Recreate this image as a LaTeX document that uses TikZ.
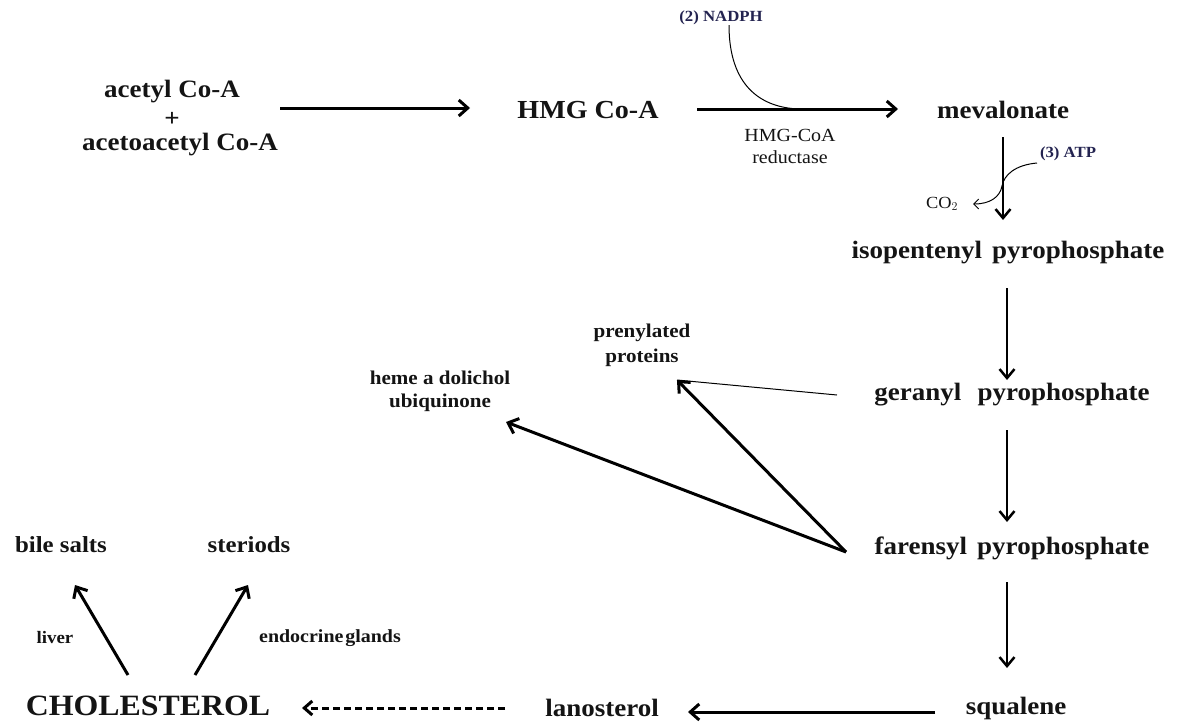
\documentclass[tikz,border=0pt]{standalone}
\usepackage{fontspec}
\setmainfont{Liberation Serif}[FakeStretch=1.08]
\usetikzlibrary{arrows.meta}
\definecolor{navy}{RGB}{35,35,80}
\definecolor{ink}{RGB}{20,20,20}
\begin{document}
\begin{tikzpicture}[x=1pt,y=-1pt,
  lbl/.style={inner sep=0pt, text=ink, font=\fontsize{25}{29}\selectfont\bfseries},
  biglbl/.style={inner sep=0pt, text=ink, font=\fontsize{29.5}{32}\selectfont\bfseries},
  sidelbl/.style={inner sep=0pt, text=ink, align=center, font=\fontsize{19.5}{25}\selectfont\bfseries},
  enzlbl/.style={inner sep=0pt, text=ink, align=center, font=\fontsize{18.5}{22}\selectfont},
  cofac/.style={inner sep=0pt, text=navy, font=\fontsize{15.5}{17}\selectfont\bfseries},
  thickarr/.style={line width=3pt, -{Straight Barb[length=9pt,width=16pt]}},
  medarr/.style={line width=2.5pt, -{Straight Barb[length=9pt,width=15pt]}},
  thinarr/.style={line width=1pt, -{Straight Barb[length=5pt,width=10pt]}},
  dasharr/.style={line width=3pt, dash pattern=on 7pt off 4pt, -{Straight Barb[length=8pt,width=14pt]}}
]
\useasboundingbox (0,0) rectangle (1180,723);
\fill[white] (0,0) rectangle (1180,723);

% nodes
\node[lbl] (acetyl) at (172,92) {acetyl Co-A};
\node[lbl] (plus) at (172,119) {+};
\node[lbl] (acetoacetyl) at (180,145) {acetoacetyl Co-A};
\node[lbl, font=\fontsize{26}{29}\selectfont\bfseries] (hmg) at (588,110) {HMG Co-A};
\node[enzlbl] (enz) at (790,146) {HMG-CoA\\reductase};
\node[cofac] (nadph) at (721,18) {(2) NADPH};
\node[lbl] (mev) at (1003,110) {mevalonate};
\node[cofac] (atp) at (1068,154) {(3) ATP};
\node[inner sep=0pt, text=ink, font=\fontsize{17}{19}\selectfont] (co2) at (942,204) {CO$_2$};
\node[lbl] (iso) at (1008,253) {isopentenyl\hspace{0.4em}pyrophosphate};
\node[lbl] (ger) at (1012,395) {geranyl\hspace{0.65em}pyrophosphate};
\node[lbl] (far) at (1012,548) {farensyl\hspace{0.4em}pyrophosphate};
\node[lbl] (squ) at (1016,708) {squalene};
\node[lbl] (lan) at (602,708) {lanosterol};
\node[biglbl] (chol) at (148,706) {CHOLESTEROL};
\node[lbl, font=\fontsize{23}{26}\selectfont\bfseries] (bile) at (61,545) {bile salts};
\node[lbl, font=\fontsize{23}{26}\selectfont\bfseries] (ster) at (249,545) {steriods};
\node[inner sep=0pt, text=ink, font=\fontsize{17.5}{19}\selectfont\bfseries] (liver) at (55,638) {liver};
\node[inner sep=0pt, text=ink, font=\fontsize{18.5}{20}\selectfont\bfseries] (endo) at (330,638) {endocrine\hspace{0.1em}glands};
\node[sidelbl, font=\fontsize{19.5}{25}\selectfont\bfseries] (pren) at (642,345) {prenylated\\proteins};
\node[sidelbl, font=\fontsize{19.5}{23}\selectfont\bfseries] (heme) at (440,391) {heme a dolichol\\ubiquinone};

% connector end points
\coordinate (a1s) at (280,108);  \coordinate (a1e) at (470,108);
\coordinate (a2s) at (697,109);  \coordinate (a2e) at (898,109);
\coordinate (njoin) at (800,109);
\coordinate (v1s) at (1003,137); \coordinate (v1e) at (1003,220);
\coordinate (v2s) at (1007,288); \coordinate (v2e) at (1007,380);
\coordinate (v3s) at (1007,430); \coordinate (v3e) at (1007,522);
\coordinate (v4s) at (1007,582); \coordinate (v4e) at (1007,668);
\coordinate (h1s) at (935,712);  \coordinate (h1e) at (688,712);
\coordinate (d1s) at (505,708);  \coordinate (d1e) at (302,708);
\coordinate (c1s) at (128,675);  \coordinate (c1e) at (75,585);
\coordinate (c2s) at (195,675);  \coordinate (c2e) at (248,585);
\coordinate (fbase) at (846,552);
\coordinate (ptip) at (677,380); \coordinate (htip) at (506,422);
\coordinate (gthin) at (837,395);
\coordinate (atps) at (1037,163); \coordinate (atpm) at (1002,186); \coordinate (atpe) at (973,204);

% connectors
\draw[thickarr] (a1s) -- (a1e);
\draw[thickarr] (a2s) -- (a2e);
\draw[line width=1pt] (nadph.south -| 729,0) .. controls (729,85) and (760,108) .. (njoin);
\draw[medarr] (v1s) -- (v1e);
\draw[thinarr] (atps) .. controls (1015,165) and (1004,175) .. (atpm) .. controls (1000,197) and (990,204) .. (atpe);
\draw[medarr] (v2s) -- (v2e);
\draw[medarr] (v3s) -- (v3e);
\draw[medarr] (v4s) -- (v4e);
\draw[thickarr] (h1s) -- (h1e);
\draw[dasharr] (d1s) -- (d1e);
\draw[thickarr] (c1s) -- (c1e);
\draw[thickarr] (c2s) -- (c2e);
\draw[thickarr] (fbase) -- (ptip);
\draw[thickarr] (fbase) -- (htip);
\draw[line width=1pt] (gthin) -- (ptip);
\end{tikzpicture}
\end{document}
